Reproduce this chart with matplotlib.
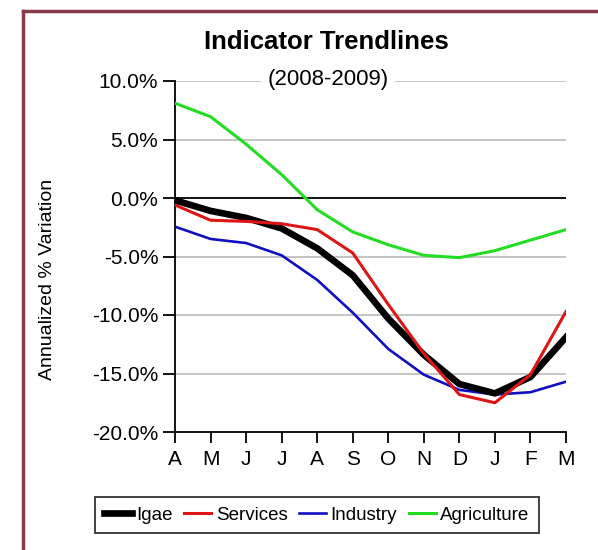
import matplotlib
matplotlib.use("Agg")
import matplotlib.pyplot as plt
from matplotlib.lines import Line2D
from matplotlib.ticker import FuncFormatter

plt.rcParams['font.family'] = ['Liberation Sans Narrow', 'Liberation Sans', 'DejaVu Sans']

months = ["A", "M", "J", "J", "A", "S", "O", "N", "D", "J", "F", "M"]
igae = [-0.2, -1.1, -1.7, -2.6, -4.3, -6.6, -10.3, -13.4, -15.9, -16.7, -15.3, -11.9]
services = [-0.6, -1.9, -2.0, -2.2, -2.7, -4.7, -9.1, -13.3, -16.8, -17.5, -15.1, -9.7]
industry = [-2.45, -3.5, -3.85, -4.9, -7.0, -9.8, -12.9, -15.1, -16.4, -16.8, -16.6, -15.7]
agriculture = [8.1, 6.95, 4.6, 2.0, -1.0, -2.9, -4.0, -4.9, -5.1, -4.5, -3.6, -2.7]

fig = plt.figure(figsize=(5.98, 5.5), dpi=100)
W, H = 598, 550
ax = fig.add_axes([175 / W, 1 - 432 / H, 391 / W, 351 / H])

x = list(range(len(months)))
ax.plot(x, agriculture, color="#22dd22", lw=2.2, label="Agriculture", zorder=3)
ax.plot(x, industry, color="#1010c0", lw=1.9, label="Industry", zorder=4)
ax.plot(x, igae, color="black", lw=4.8, label="Igae", zorder=5)
ax.plot(x, services, color="#dd1515", lw=2.2, label="Services", zorder=6)

ax.set_xlim(0, 11)
ax.set_ylim(-20, 10)
ax.set_yticks([-20, -15, -10, -5, 0, 5, 10])
ax.set_xticks(x)
ax.set_xticklabels(months)
ax.yaxis.set_major_formatter(FuncFormatter(lambda v, p: f"{v:.1f}%"))
for v in [-15, -10, -5, 5, 10]:
    ax.axhline(v, color="#bbbbbb", lw=1.2, zorder=1)
ax.axhline(0, color="black", lw=1.3, zorder=2)

for s in ["top", "right"]:
    ax.spines[s].set_visible(False)
for s in ["left", "bottom"]:
    ax.spines[s].set_linewidth(1.3)
ax.tick_params(axis="y", length=9, width=1.3, labelsize=15, pad=3)
ax.tick_params(axis="x", length=8, width=1.3, labelsize=15, pad=5)

fig.text(48 / W, 1 - 279 / H, "Annualized % Variation", rotation=90,
         ha="center", va="center", fontsize=14)
fig.text(326 / W, 1 - 42 / H, "Indicator Trendlines", ha="center", va="center",
         fontsize=18.5, fontweight="bold")
fig.text(328 / W, 1 - 80 / H, "(2008-2009)", ha="center", va="center", fontsize=16,
         bbox=dict(facecolor="white", edgecolor="none", pad=5), zorder=10)

handles, labels = ax.get_legend_handles_labels()
order = ["Igae", "Services", "Industry", "Agriculture"]
h = [handles[labels.index(n)] for n in order]
leg = fig.legend(h, order, loc="center", bbox_to_anchor=(317 / W, 1 - 515 / H), ncol=4,
                 fontsize=13.5, frameon=True, fancybox=False, edgecolor="black",
                 handlelength=1.45, handletextpad=0.25, columnspacing=0.6,
                 borderpad=0.5, borderaxespad=0)
leg.get_frame().set_linewidth(1.3)

# maroon border along the top and left edges
fig.add_artist(Line2D([23 / W, 23 / W], [0, 1 - 11 / H], color="#8b3a4a", lw=2.5))
fig.add_artist(Line2D([23 / W, 1], [1 - 11 / H, 1 - 11 / H], color="#8b3a4a", lw=2.5))

fig.savefig("out.png", dpi=100)
